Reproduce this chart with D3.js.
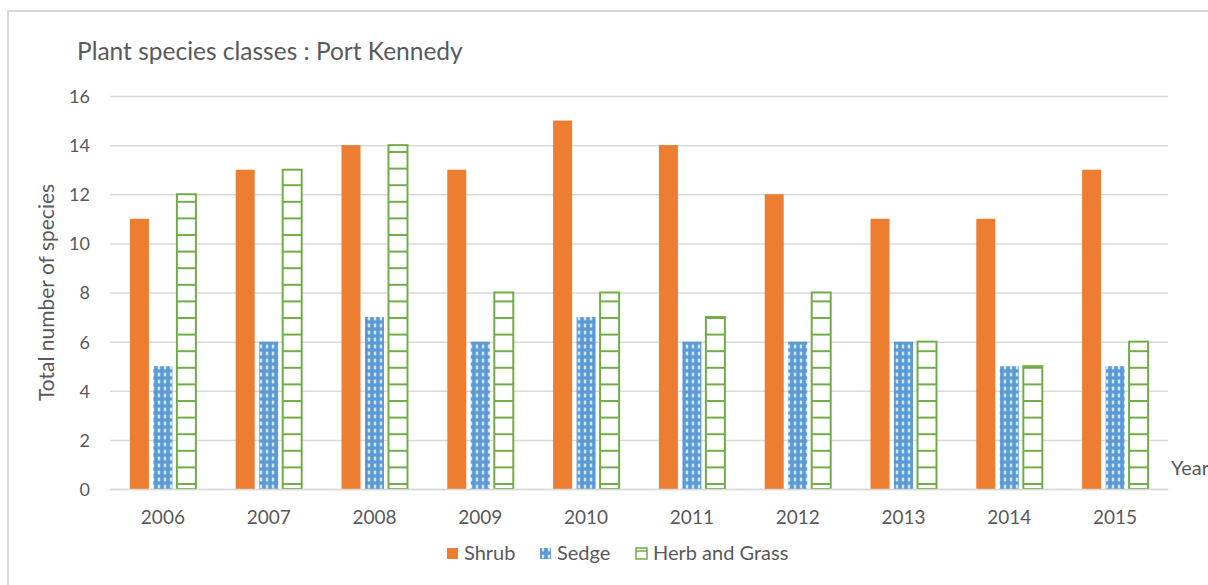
<!DOCTYPE html>
<html>
<head>
<meta charset="utf-8">
<script src="https://cdn.jsdelivr.net/npm/d3@7/dist/d3.min.js"></script>
<style>
  html, body { margin: 0; padding: 0; background: #fff; }
  svg { display: block; font-family: Lato, "Open Sans", sans-serif; }
</style>
</head>
<body>
<svg id="chart" width="1208" height="585"></svg>
<script>
// Survey data: species counts per class, Port Kennedy
const years = ["2006", "2007", "2008", "2009", "2010", "2011", "2012", "2013", "2014", "2015"];
const shrub = [11, 13, 14, 13, 15, 14, 12, 11, 11, 13];
const sedge = [5, 6, 7, 6, 7, 6, 6, 6, 5, 5];
const herbGrass = [12, 13, 14, 8, 8, 7, 8, 6, 5, 6];
const seriesNames = ["Shrub", "Sedge", "Herb and Grass"];
const yTicks = [0, 2, 4, 6, 8, 10, 12, 14, 16];

const svg = d3.select("#chart");
const W = 1208, H = 585;
const plot = { left: 110, right: 1168, top: 96, bottom: 489 };
const textColor = "#595959";
const gridColor = "#d9d9d9";
const orange = "#ED7D31", blue = "#5B9BD5", green = "#70AD47";

// Chart frame
svg.append("rect")
  .attr("x", 8).attr("y", 11).attr("width", W).attr("height", H)
  .attr("fill", "#fff").attr("stroke", "#d9d9d9").attr("stroke-width", 2);

// Fill patterns
const defs = svg.append("defs");
const dots = defs.append("pattern")
  .attr("id", "sedgePat").attr("patternUnits", "userSpaceOnUse")
  .attr("width", 6).attr("height", 7);
dots.append("rect").attr("width", 6).attr("height", 7).attr("fill", blue);
dots.append("rect").attr("x", 1.8).attr("y", 1.5).attr("width", 2.4).attr("height", 4)
  .attr("rx", 1).attr("fill", "#d6e6f6");

const ladder = defs.append("pattern")
  .attr("id", "herbPat").attr("patternUnits", "userSpaceOnUse")
  .attr("x", 0).attr("y", 484)
  .attr("width", 20).attr("height", 16.6);
ladder.append("rect").attr("width", 20).attr("height", 16.6).attr("fill", "#fff");
ladder.append("rect").attr("y", -1).attr("width", 20).attr("height", 2).attr("fill", green);
ladder.append("rect").attr("y", 15.6).attr("width", 20).attr("height", 1).attr("fill", green);

// Scales
const x = d3.scaleBand().domain(years).range([plot.left, plot.right]).paddingInner(0).paddingOuter(0);
const y = d3.scaleLinear().domain([0, 16]).range([plot.bottom, plot.top]);
const barW = 19, barGap = 4.5;
const groupW = barW * 3 + barGap * 2;
const sub = d3.scaleOrdinal().domain(seriesNames)
  .range([0, barW + barGap, 2 * (barW + barGap)]);

// Gridlines + y axis labels
const yAxis = d3.axisLeft(y).tickValues(yTicks).tickSize(-(plot.right - plot.left)).tickPadding(20);
const gy = svg.append("g").attr("transform", `translate(${plot.left},0)`).call(yAxis);
gy.select(".domain").remove();
gy.selectAll(".tick line").attr("stroke", gridColor).attr("stroke-width", 1.5);
gy.selectAll(".tick text").attr("fill", textColor).attr("font-size", 18)
  .attr("font-family", "Lato, sans-serif").attr("dy", "0.36em");

// Bars
const series = [
  { name: "Shrub", values: shrub, fill: orange, stroke: "none" },
  { name: "Sedge", values: sedge, fill: "url(#sedgePat)", stroke: "none" },
  { name: "Herb and Grass", values: herbGrass, fill: "url(#herbPat)", stroke: green }
];
series.forEach(s => {
  svg.append("g").selectAll("rect").data(years).join("rect")
    .attr("x", (d) => x(d) + (x.bandwidth() - groupW) / 2 + sub(s.name))
    .attr("y", (d, i) => y(s.values[i]))
    .attr("width", barW)
    .attr("height", (d, i) => y(0) - y(s.values[i]))
    .attr("fill", s.fill)
    .attr("stroke", s.stroke)
    .attr("stroke-width", s.stroke === "none" ? 0 : 2);
});

// Baseline + x axis labels
const xAxis = d3.axisBottom(x).tickSize(0).tickPadding(22);
const gx = svg.append("g").attr("transform", `translate(0,${plot.bottom})`).call(xAxis);
gx.select(".domain").attr("stroke", gridColor).attr("stroke-width", 1.5);
gx.selectAll(".tick text").attr("fill", textColor).attr("font-size", 19)
  .attr("font-family", "Lato, sans-serif").attr("dy", "0.71em");

// Axis titles
svg.append("text")
  .attr("transform", `translate(54,${(plot.top + plot.bottom) / 2}) rotate(-90)`)
  .attr("text-anchor", "middle").attr("fill", textColor).attr("font-size", 21)
  .text("Total number of species");
svg.append("text")
  .attr("x", 1171).attr("y", 475).attr("fill", textColor).attr("font-size", 20)
  .text("Year");

// Title
svg.append("text")
  .attr("x", 77).attr("y", 60).attr("fill", textColor).attr("font-size", 24.5)
  .text("Plant species classes : Port Kennedy");

// Legend
const legend = [
  { name: "Shrub", x: 447, fill: orange, stroke: "none" },
  { name: "Sedge", x: 540, fill: "url(#sedgePat)", stroke: "none" },
  { name: "Herb and Grass", x: 636, fill: "#fff", stroke: green }
];
const lg = svg.append("g");
legend.forEach(l => {
  lg.append("rect").attr("x", l.x).attr("y", 548).attr("width", 11).attr("height", 11)
    .attr("fill", l.fill).attr("stroke", l.stroke).attr("stroke-width", l.stroke === "none" ? 0 : 1.5);
  if (l.stroke !== "none") {
    lg.append("line").attr("x1", l.x).attr("x2", l.x + 11).attr("y1", 551).attr("y2", 551)
      .attr("stroke", green).attr("stroke-width", 1.5);
  }
  lg.append("text").attr("x", l.x + 17).attr("y", 560).attr("fill", textColor)
    .attr("font-size", 20).text(l.name);
});
</script>
</body>
</html>
